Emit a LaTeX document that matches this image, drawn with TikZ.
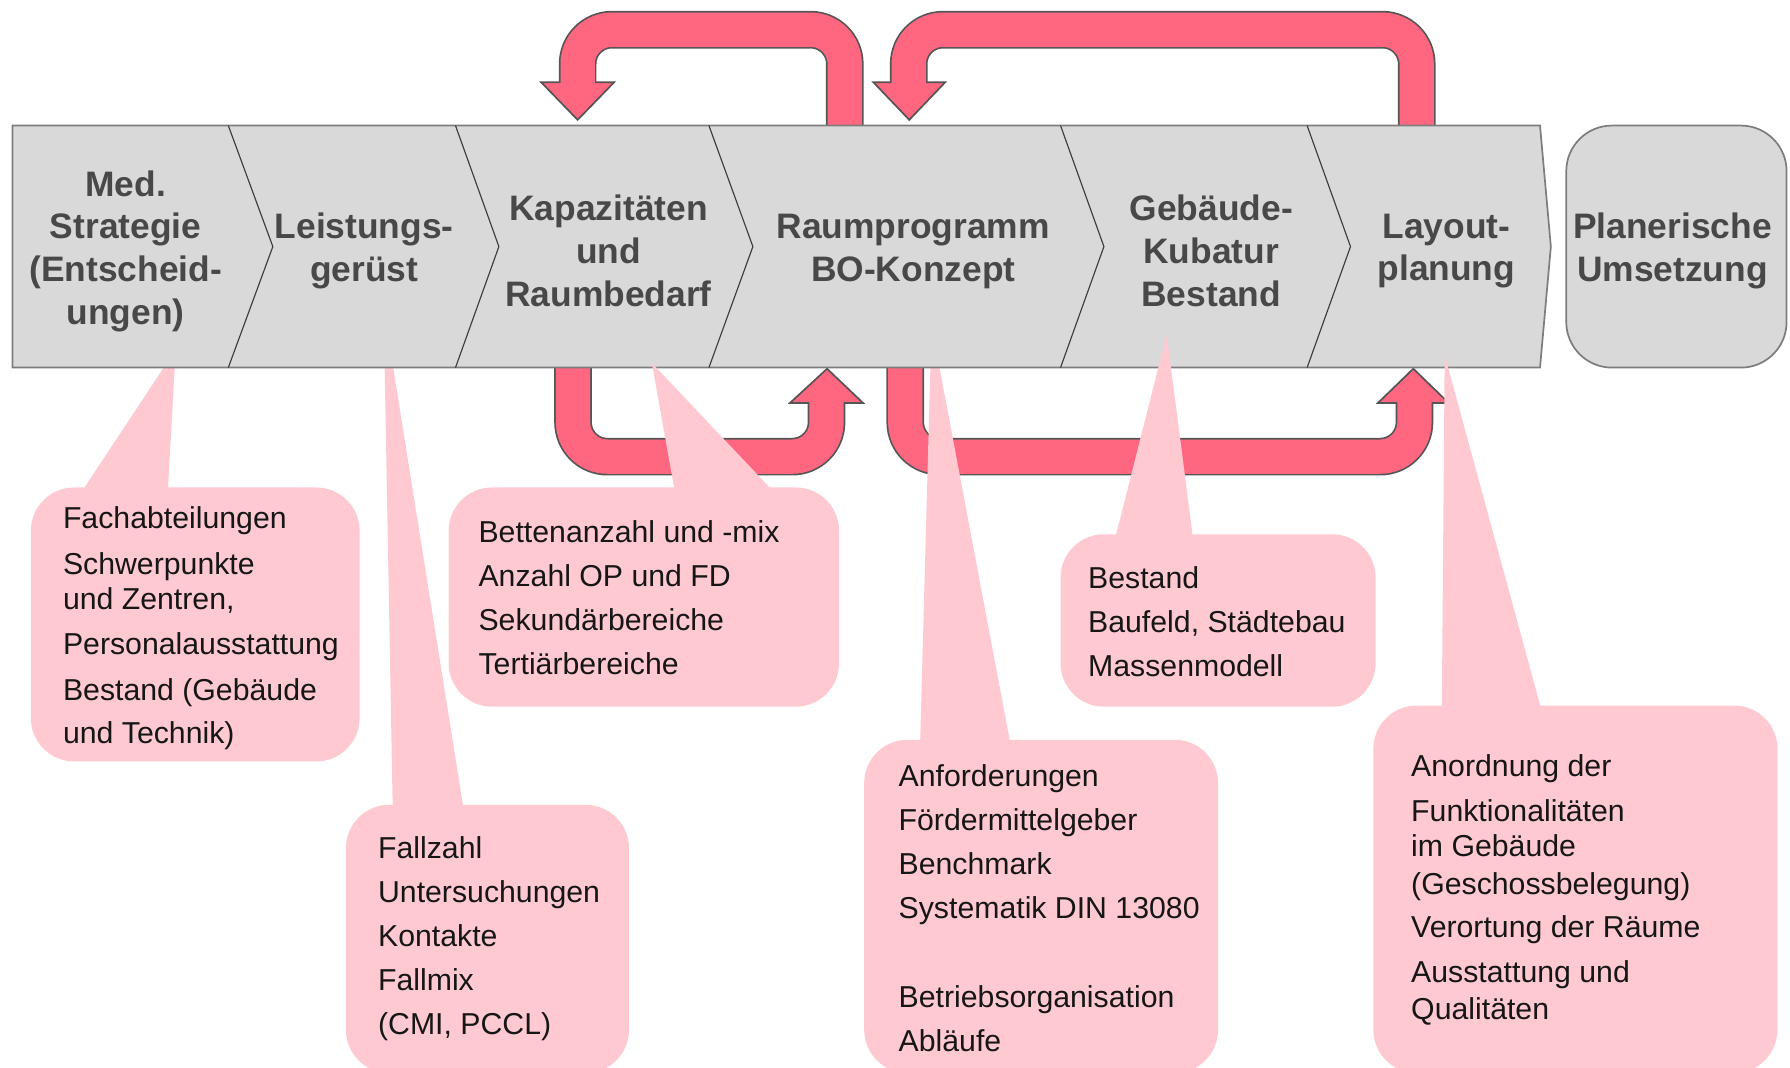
\documentclass[tikz,border=0pt]{standalone}
\usepackage{fontspec}
\setmainfont{Liberation Sans}
\definecolor{bandgray}{RGB}{217,217,217}
\definecolor{bandline}{RGB}{125,125,125}
\definecolor{sepline}{RGB}{60,60,60}
\definecolor{arrowred}{RGB}{255,102,128}
\definecolor{arrowline}{RGB}{85,85,85}
\definecolor{calloutpink}{RGB}{255,201,210}
\definecolor{bandtext}{RGB}{72,72,72}
\definecolor{calltext}{RGB}{22,22,22}
\tikzset{
  arrowout/.style={draw=arrowline, line width=33pt, rounded corners=30pt},
  arrowin/.style={draw=arrowred, line width=30pt, rounded corners=30pt},
  arrowhead/.style={fill=arrowred, draw=arrowline, line width=1.5pt, line join=miter},
  callfill/.style={fill=calloutpink},
  callbox/.style={fill=calloutpink, rounded corners=38pt},
  bandshape/.style={fill=bandgray, draw=bandline, line width=1.5pt},
  sepstroke/.style={draw=sepline, line width=1pt},
  bandlabel/.style={font=\fontsize{31}{37.5}\selectfont\bfseries, text=bandtext, align=center, inner sep=0pt},
  calllabel/.style={font=\fontsize{26.5}{31}\selectfont, text=calltext, align=left, inner sep=0pt, anchor=north west},
}
\begin{document}
\begin{tikzpicture}[x=1pt,y=-1pt]
\useasboundingbox (0,0) rectangle (1568,934.7);

% ---------- feedback arrows ----------
% top left loop
\draw[arrowout] (740,116) -- (740,26) -- (506,26) -- (506,76);
\draw[arrowhead] (474,72) -- (538,72) -- (506,105) -- cycle;
\draw[arrowin] (740,116) -- (740,26) -- (506,26) -- (506,76);
% top right loop
\draw[arrowout] (1241,116) -- (1241,26) -- (796,26) -- (796,76);
\draw[arrowhead] (765,72) -- (828,72) -- (796.5,105) -- cycle;
\draw[arrowin] (1241,116) -- (1241,26) -- (796,26) -- (796,76);
% bottom left loop
\draw[arrowout] (502,316) -- (502,400) -- (724,400) -- (724,349);
\draw[arrowhead] (692,353) -- (756,353) -- (724.5,323) -- cycle;
\draw[arrowin] (502,316) -- (502,400) -- (724,400) -- (724,349);
% bottom right loop
\draw[arrowout] (793,316) -- (793,400) -- (1239,400) -- (1239,349);
\draw[arrowhead] (1207,353) -- (1269,353) -- (1238,323) -- cycle;
\draw[arrowin] (793,316) -- (793,400) -- (1239,400) -- (1239,349);

% ---------- callouts behind the band ----------
\fill[callfill] (154,306) -- (72,430) -- (147,430) -- cycle;
\fill[callbox] (27,427) rectangle (315,667);
\fill[callfill] (336,269) -- (344,708) -- (406,708) -- cycle;
\fill[callbox] (303,705) rectangle (551,940);
\fill[callfill] (816,285) -- (806,651) -- (885,651) -- cycle;
\fill[callbox] (757,648) rectangle (1067,940);

% ---------- process band ----------
\draw[bandshape] (11,110) -- (1349,110) -- (1358.5,216) -- (1349,322) -- (11,322) -- cycle;
\draw[sepstroke] (200,110) -- (239,216) -- (200,322);
\draw[sepstroke] (399,110) -- (437,216) -- (399,322);
\draw[sepstroke] (621,110) -- (659.5,216) -- (621,322);
\draw[sepstroke] (929,110) -- (967,216) -- (929,322);
\draw[sepstroke] (1145,110) -- (1183,216) -- (1145,322);
\draw[bandshape, rounded corners=40pt] (1372,110) rectangle (1565,322);

\node[bandlabel] (med) at (110,220) {Med.\\Strategie\\(Entscheid-\\ungen)};
\node[bandlabel] (leist) at (319,220) {Leistungs-\\gerüst};
\node[bandlabel] (kap) at (533,220) {Kapazitäten\\und\\Raumbedarf};
\node[bandlabel] (raum) at (800,220) {Raumprogramm\\BO-Konzept};
\node[bandlabel] (geb) at (1061,220) {Gebäude-\\Kubatur\\Bestand};
\node[bandlabel] (lay) at (1267,220) {Layout-\\planung};
\node[bandlabel] (plan) at (1465,220) {Planerische\\Umsetzung};

% ---------- callouts in front of the band ----------
\fill[callfill] (571,318) -- (591,430) -- (677,430) -- cycle;
\fill[callbox] (393,427) rectangle (735,619);
\fill[callfill] (1022,293) -- (977,471) -- (1045,471) -- cycle;
\fill[callbox] (929,468) rectangle (1205,619);
\fill[callfill] (1265.5,311) -- (1263,621) -- (1350,621) -- cycle;
\fill[callbox] (1203,618) rectangle (1557,940);

% ---------- callout texts ----------
\node[calllabel] (t1) at (55,441.3) {\strut Fachabteilungen\\[9pt] Schwerpunkte\\ und Zentren,\\[8pt] Personalausstattung\\[9pt] Bestand (Gebäude\\[7pt] und Technik)};
\node[calllabel] (t2) at (331,730.3) {\strut Fallzahl\\[7.5pt] Untersuchungen\\[7.5pt] Kontakte\\[7.5pt] Fallmix\\[7.5pt] (CMI, PCCL)};
\node[calllabel] (t3) at (419,453.3) {\strut Bettenanzahl und -mix\\[7.5pt] Anzahl OP und FD\\[7.5pt] Sekundärbereiche\\[7.5pt] Tertiärbereiche};
\node[calllabel] (t4) at (787,667.3) {\strut Anforderungen\\[7.5pt] Fördermittelgeber\\[7.5pt] Benchmark\\[7.5pt] Systematik DIN 13080\\[47pt] Betriebsorganisation\\[7.5pt] Abläufe};
\node[calllabel] (t5) at (953,493.3) {\strut Bestand\\[7.5pt] Baufeld, Städtebau\\[7.5pt] Massenmodell};
\node[calllabel] (t6) at (1236,658.3) {\strut Anordnung der\\[8pt] Funktionalitäten\\ im Gebäude\\[2pt] (Geschossbelegung)\\[7pt] Verortung der Räume\\[8pt] Ausstattung und\\[2pt] Qualitäten};
\end{tikzpicture}
\end{document}
